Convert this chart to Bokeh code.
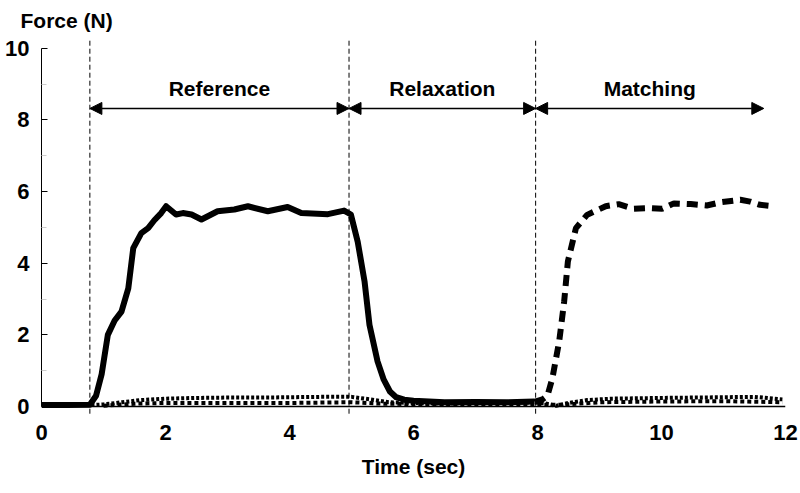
from bokeh.plotting import figure
from bokeh.models import Range1d, FixedTicker, Arrow, NormalHead, Label
from bokeh.embed import file_html
from bokeh.resources import INLINE

# ---- data ----
ref_t = [0.0, 0.4, 0.78, 0.88, 0.97, 1.07, 1.18, 1.29, 1.40, 1.48, 1.61, 1.72, 1.82, 1.93, 2.01,
         2.17, 2.28, 2.42, 2.58, 2.84, 3.11, 3.33, 3.65, 3.97, 4.19, 4.62, 4.88, 4.99, 5.10,
         5.21, 5.29, 5.42, 5.52, 5.62, 5.72, 5.85, 6.0, 6.5, 7.0, 7.5, 7.95]
ref_f = [0.04, 0.04, 0.05, 0.3, 0.9, 2.0, 2.4, 2.65, 3.3, 4.42, 4.84, 4.98, 5.2, 5.4, 5.59,
         5.36, 5.4, 5.36, 5.22, 5.45, 5.5, 5.59, 5.45, 5.57, 5.4, 5.37, 5.47, 5.36, 4.6,
         3.5, 2.28, 1.26, 0.75, 0.42, 0.26, 0.19, 0.16, 0.12, 0.13, 0.12, 0.14]

match_t = [7.95, 8.08, 8.16, 8.24, 8.35, 8.43, 8.49, 8.62, 8.80, 9.10, 9.31, 9.55, 9.82, 10.01,
           10.2, 10.47, 10.73, 10.95, 11.27, 11.43, 11.59, 11.81]
match_f = [0.13, 0.2, 0.3, 0.79, 1.82, 2.93, 4.05, 4.98, 5.35, 5.59, 5.65, 5.52, 5.54, 5.52,
           5.67, 5.65, 5.61, 5.7, 5.77, 5.72, 5.63, 5.59]

other1_t = [0.0, 0.5, 0.8, 1.0, 1.3, 1.6, 2.0, 2.5, 3.0, 3.5, 4.0, 4.5, 5.0, 5.3, 5.6, 6.0,
            6.5, 7.0, 7.5, 7.95, 8.15, 8.3, 8.5, 8.8, 9.2, 9.6, 10.0, 10.5, 11.0, 11.5, 11.95]
other1_f = [0.05, 0.05, 0.04, 0.06, 0.12, 0.18, 0.22, 0.24, 0.25, 0.25, 0.26, 0.27, 0.27, 0.2,
            0.12, 0.1, 0.08, 0.1, 0.1, 0.12, 0.08, 0.02, 0.1, 0.18, 0.22, 0.23, 0.24, 0.25,
            0.26, 0.27, 0.2]
other2_t = [1.0, 1.5, 2.0, 3.0, 4.0, 5.0, 5.5, 6.5, 8.4, 9.0, 10.0, 11.0, 11.95]
other2_f = [0.02, 0.08, 0.1, 0.1, 0.1, 0.12, 0.08, 0.06, 0.05, 0.12, 0.14, 0.15, 0.12]

phase_edges = [0.78, 4.96, 7.97, 11.65]
phase_names = ["Reference", "Relaxation", "Matching"]
x_ticks = [0, 2, 4, 6, 8, 10, 12]
y_ticks = [0, 2, 4, 6, 8, 10]
y_minor = [1, 3, 5, 7, 9]

FONT = "Liberation Sans"

p = figure(frame_width=744, frame_height=378, output_backend="svg", toolbar_location=None,
           x_range=Range1d(0, 12), y_range=Range1d(-0.25, 10.3),
           min_border_left=41, min_border_right=13, min_border_top=36, min_border_bottom=77)
p.outline_line_color = None
p.grid.visible = False
p.background_fill_color = "white"

p.title.text = "Force (N)"
p.title.text_font = FONT
p.title.text_font_size = "21px"
p.title.text_font_style = "bold"
p.title.text_color = "black"
p.title.align = "left"
p.title.offset = -21
p.title.standoff = 12

# bottom axis: labels only
xa = p.xaxis[0]
xa.ticker = FixedTicker(ticks=x_ticks)
xa.axis_line_color = None
xa.major_tick_line_color = None
xa.minor_tick_line_color = None
xa.major_label_text_font = FONT
xa.major_label_text_font_size = "22px"
xa.major_label_text_font_style = "bold"
xa.major_label_text_color = "black"
xa.major_label_standoff = 3
xa.axis_label = "Time (sec)"
xa.axis_label_text_font = FONT
xa.axis_label_text_font_size = "21px"
xa.axis_label_text_font_style = "bold"
xa.axis_label_text_color = "black"
xa.axis_label_standoff = 12

ya = p.yaxis[0]
ya.ticker = FixedTicker(ticks=y_ticks, minor_ticks=y_minor)
ya.bounds = (0, 10)
ya.axis_line_width = 1
ya.axis_line_color = "black"
ya.major_tick_in = 6
ya.major_tick_out = 0
ya.major_tick_line_color = "black"
ya.minor_tick_in = 5
ya.minor_tick_out = 0
ya.minor_tick_line_color = "#cccccc"
ya.major_label_text_font = FONT
ya.major_label_text_font_size = "22px"
ya.major_label_text_font_style = "bold"
ya.major_label_text_color = "black"
ya.major_label_standoff = 12

# x axis line at zero
p.segment(x0=[0], y0=[0], x1=[12], y1=[0], line_color="black", line_width=1.5)

# phase separators
seps = phase_edges[:3]
p.segment(x0=seps, y0=[-0.2] * 3, x1=seps, y1=[10.25] * 3,
          line_color="black", line_width=1, line_dash="5 3")

# traces
p.line(other1_t, other1_f, line_color="black", line_width=4, line_dash="3 2")
p.line(other2_t, other2_f, line_color="black", line_width=4, line_dash="4 3")
p.line(ref_t, ref_f, line_color="black", line_width=6, line_join="round")
p.line(match_t, match_f, line_color="black", line_width=6, line_dash="11 7")

# phase arrows and labels
for i, name in enumerate(phase_names):
    a, b = phase_edges[i], phase_edges[i + 1]
    p.add_layout(Arrow(x_start=a, y_start=8.32, x_end=b, y_end=8.32, line_width=1.5,
                       start=NormalHead(size=12, fill_color="black", line_color="black"),
                       end=NormalHead(size=12, fill_color="black", line_color="black")))
    p.add_layout(Label(x=(a + b) / 2, y=8.88, text=name, text_align="center",
                       text_baseline="middle", text_font=FONT, text_font_size="21px",
                       text_font_style="bold", text_color="black"))

open("out.html", "w").write(file_html(p, INLINE))
